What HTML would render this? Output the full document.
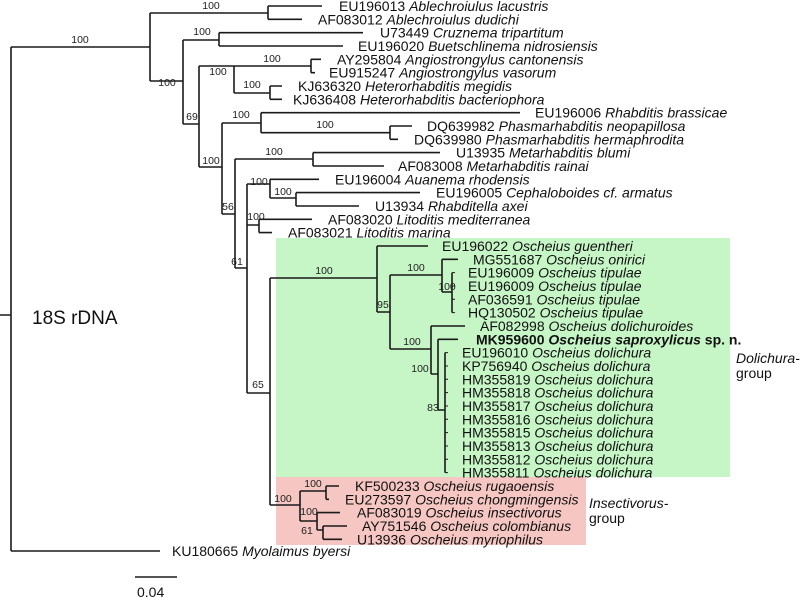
<!DOCTYPE html>
<html><head><meta charset="utf-8"><style>
html,body{margin:0;padding:0;background:#fff;}
svg{display:block;font-family:"Liberation Sans",sans-serif;}
.t{font-size:14px;fill:#111;}
.b{font-size:10.5px;fill:#222;text-anchor:middle;}
</style></head><body>
<svg width="800" height="600" viewBox="0 0 800 600" xmlns="http://www.w3.org/2000/svg">
<rect x="276" y="238" width="454" height="239" fill="#c6f5c6"/>
<rect x="276" y="477" width="310" height="68" fill="#f5c6c2"/>
<g fill="none" stroke="#1a1a1a" stroke-width="1.6">
<path d="M11,47V551M0,315H11M11,47H150M11,551H160
M150,13V81M150,13H268M268,6V19.3M268,6H322M268,19.3H302
M150,81H183M183,40V124M183,40H219M219,32.7V46M219,32.7H363M219,46H343
M183,124H199M199,66V167M199,66H234M234,66V93M234,66H311M311,59.3V72.7M311,59.3H321M311,72.7H315M234,93H270M270,86V99.3M270,86H282M270,99.3H282
M199,167H222M222,123V214M222,123H261M261,112.7V132.7M261,112.7H520M261,132.7H390M390,126V139.3M390,126H412M390,139.3H398
M222,214H235M235,159V268M235,159H313M313,152.6V166M313,152.6H440M313,166H384
M235,268H247M247,184V393M247,184H270M270,179.3V198M270,179.3H319M270,198H296M296,192.6V206M296,192.6H420M296,206H359
M247,225H259M259,219.3V232.6M259,219.3H312M259,232.6H272
M247,393H270M270,278V505M270,278H377M377,246V312M377,246H428M377,312H390M390,275V349M390,275H442M442,259.3V292M442,259.3H458M442,292H452M452,272.6V312.6
M390,349H431M431,326V374M431,326H465M431,374H438M438,339.3V410M438,339.3H458M438,410H445M445,352.6V472.6
M270,505H300M300,491V521M300,491H326M326,486V499.3M326,486H339M326,499.3H329M300,521H317M317,512.6V530M317,512.6H340M317,530H323M323,526V539.3M323,526H347M323,539.3H342
M135,577H177"/>
<path stroke-width="1" d="M452,272.6H455M452,286H455M452,299.3H455M452,312.6H455M445,352.6H448M445,366H448M445,379.3H448M445,392.6H448M445,406H448M445,419.3H448M445,432.6H448M445,446H448M445,459.3H448M445,472.6H448"/>
</g>
<g class="b">
<text x="80" y="43">100</text><text x="211" y="9">100</text><text x="167" y="86">100</text>
<text x="202" y="35">100</text><text x="192" y="120">69</text><text x="218" y="75">100</text>
<text x="272" y="62">100</text><text x="252" y="88">100</text><text x="211" y="164">100</text>
<text x="241" y="118">100</text><text x="325" y="128">100</text><text x="274" y="155">100</text>
<text x="228" y="210">56</text><text x="259" y="185">100</text><text x="283" y="195">100</text>
<text x="256" y="220">100</text><text x="237" y="265">61</text><text x="324" y="274">100</text>
<text x="383" y="308">95</text><text x="416" y="271">100</text><text x="412" y="345">100</text>
<text x="447" y="290">100</text><text x="420" y="372">100</text><text x="433" y="411">83</text>
<text x="258" y="388">65</text><text x="283" y="502">100</text><text x="313" y="487">100</text>
<text x="309" y="515">100</text><text x="307" y="534">61</text>
</g>
<g class="t">
<text x="339" y="11">EU196013 <tspan font-style="italic">Ablechroiulus lacustris</tspan></text>
<text x="318" y="24.3">AF083012 <tspan font-style="italic">Ablechroiulus dudichi</tspan></text>
<text x="380" y="37.7">U73449 <tspan font-style="italic">Cruznema tripartitum</tspan></text>
<text x="358" y="51">EU196020 <tspan font-style="italic">Buetschlinema nidrosiensis</tspan></text>
<text x="337" y="64.3">AY295804 <tspan font-style="italic">Angiostrongylus cantonensis</tspan></text>
<text x="329" y="77.7">EU915247 <tspan font-style="italic">Angiostrongylus vasorum</tspan></text>
<text x="298" y="91">KJ636320 <tspan font-style="italic">Heterorhabditis megidis</tspan></text>
<text x="293" y="104.3">KJ636408 <tspan font-style="italic">Heterorhabditis bacteriophora</tspan></text>
<text x="535" y="117.7">EU196006 <tspan font-style="italic">Rhabditis brassicae</tspan></text>
<text x="427" y="131">DQ639982 <tspan font-style="italic">Phasmarhabditis neopapillosa</tspan></text>
<text x="414" y="144.3">DQ639980 <tspan font-style="italic">Phasmarhabditis hermaphrodita</tspan></text>
<text x="456" y="157.6">U13935 <tspan font-style="italic">Metarhabditis blumi</tspan></text>
<text x="398" y="171">AF083008 <tspan font-style="italic">Metarhabditis rainai</tspan></text>
<text x="335" y="184.3">EU196004 <tspan font-style="italic">Auanema rhodensis</tspan></text>
<text x="436" y="197.6">EU196005 <tspan font-style="italic">Cephaloboides cf. armatus</tspan></text>
<text x="375" y="211">U13934 <tspan font-style="italic">Rhabditella axei</tspan></text>
<text x="328" y="224.3">AF083020 <tspan font-style="italic">Litoditis mediterranea</tspan></text>
<text x="288" y="237.6">AF083021 <tspan font-style="italic">Litoditis marina</tspan></text>
<text x="442" y="251">EU196022 <tspan font-style="italic">Oscheius guentheri</tspan></text>
<text x="473" y="264.3">MG551687 <tspan font-style="italic">Oscheius onirici</tspan></text>
<text x="468" y="277.6">EU196009 <tspan font-style="italic">Oscheius tipulae</tspan></text>
<text x="468" y="291">EU196009 <tspan font-style="italic">Oscheius tipulae</tspan></text>
<text x="468" y="304.3">AF036591 <tspan font-style="italic">Oscheius tipulae</tspan></text>
<text x="468" y="317.6">HQ130502 <tspan font-style="italic">Oscheius tipulae</tspan></text>
<text x="480" y="331">AF082998 <tspan font-style="italic">Oscheius dolichuroides</tspan></text>
<text x="476" y="344.3" font-weight="bold">MK959600 <tspan font-style="italic">Oscheius saproxylicus</tspan> sp. n.</text>
<text x="462" y="357.6">EU196010 <tspan font-style="italic">Oscheius dolichura</tspan></text>
<text x="462" y="371">KP756940 <tspan font-style="italic">Oscheius dolichura</tspan></text>
<text x="462" y="384.3">HM355819 <tspan font-style="italic">Oscheius dolichura</tspan></text>
<text x="462" y="397.6">HM355818 <tspan font-style="italic">Oscheius dolichura</tspan></text>
<text x="462" y="411">HM355817 <tspan font-style="italic">Oscheius dolichura</tspan></text>
<text x="462" y="424.3">HM355816 <tspan font-style="italic">Oscheius dolichura</tspan></text>
<text x="462" y="437.6">HM355815 <tspan font-style="italic">Oscheius dolichura</tspan></text>
<text x="462" y="451">HM355813 <tspan font-style="italic">Oscheius dolichura</tspan></text>
<text x="462" y="464.3">HM355812 <tspan font-style="italic">Oscheius dolichura</tspan></text>
<text x="462" y="477.6">HM355811 <tspan font-style="italic">Oscheius dolichura</tspan></text>
<text x="355" y="491">KF500233 <tspan font-style="italic">Oscheius rugaoensis</tspan></text>
<text x="345" y="504.3">EU273597 <tspan font-style="italic">Oscheius chongmingensis</tspan></text>
<text x="357" y="517.6">AF083019 <tspan font-style="italic">Oscheius insectivorus</tspan></text>
<text x="362" y="531">AY751546 <tspan font-style="italic">Oscheius colombianus</tspan></text>
<text x="357" y="544.3">U13936 <tspan font-style="italic">Oscheius myriophilus</tspan></text>
<text x="172" y="556">KU180665 <tspan font-style="italic">Myolaimus byersi</tspan></text>
<text x="736" y="363" font-style="italic">Dolichura-</text>
<text x="736" y="378">group</text>
<text x="589" y="508" font-style="italic">Insectivorus-</text>
<text x="589" y="523">group</text>
<text x="137" y="597">0.04</text>
</g>
<text x="32" y="324" font-size="19" fill="#111">18S rDNA</text>
</svg>
</body></html>
